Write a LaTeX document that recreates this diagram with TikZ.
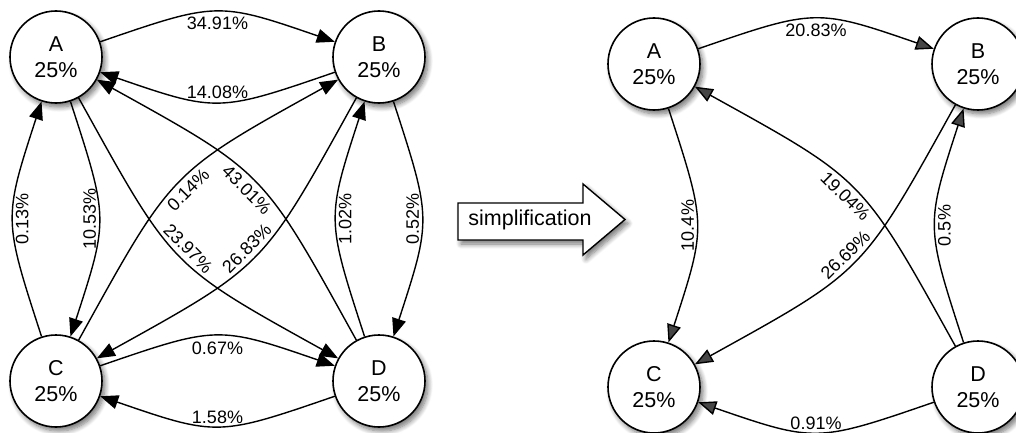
\documentclass[tikz,border=0pt]{standalone}
\usepackage{fontspec}
\setmainfont{Liberation Sans}
\usetikzlibrary{arrows.meta,shadows.blur}
\begin{document}
\begin{tikzpicture}[x=1pt,y=1pt,
  shd/.style={blur shadow={shadow xshift=3pt, shadow yshift=-4pt, shadow blur steps=8, shadow blur radius=5pt, shadow opacity=55}},
  st/.style={circle, draw, line width=1.6pt, fill=white, minimum size=92pt, inner sep=0pt, align=center, font=\fontsize{21.5}{26}\selectfont, shd},
  ed/.style={line width=1.4pt, -{Triangle[length=18pt,width=14pt]}, looseness=1.35},
  lbl/.style={font=\fontsize{18}{18}\selectfont, inner sep=1pt},
]
\useasboundingbox (0,0) rectangle (1016,432);
% left graph
\node[st] (A) at (56,375) {A\\25\%};
\node[st] (B) at (379,375) {B\\25\%};
\node[st] (C) at (56,51) {C\\25\%};
\node[st] (D) at (379,51) {D\\25\%};
\draw[ed] (A) to[out=19,in=161] node[lbl,anchor=north,outer sep=4pt] {34.91\%} (B);
\draw[ed] (B) to[out=199,in=341] node[lbl,anchor=south,outer sep=3pt] {14.08\%} (A);
\draw[ed] (C) to[out=19,in=161] node[lbl,anchor=north,outer sep=5pt] {0.67\%} (D);
\draw[ed] (D) to[out=199,in=341] node[lbl,anchor=south,outer sep=2pt] {1.58\%} (C);
\draw[ed] (A) to[out=-72,in=72] node[lbl,anchor=south,rotate=90,outer sep=2pt] {10.53\%} (C);
\draw[ed] (C) to[out=108,in=252] node[lbl,anchor=north,rotate=90,outer sep=2pt] {0.13\%} (A);
\draw[ed] (B) to[out=-72,in=72] node[lbl,anchor=south,rotate=90,outer sep=2pt] {0.52\%} (D);
\draw[ed] (D) to[out=108,in=252] node[lbl,anchor=north,rotate=90,outer sep=2pt] {1.02\%} (B);
\draw[ed] (A) to[out=-61,in=151] node[lbl,sloped,anchor=south,outer sep=4pt] {23.97\%} (D);
\draw[ed] (D) to[out=119,in=-29] node[lbl,sloped,anchor=north,outer sep=4pt] {43.01\%} (A);
\draw[ed] (C) to[out=61,in=209] node[lbl,sloped,anchor=north,outer sep=4pt] {0.14\%} (B);
\draw[ed] (B) to[out=241,in=29] node[lbl,sloped,anchor=south,outer sep=4pt] {26.83\%} (C);
% simplification arrow
\draw[line width=1.4pt, fill=white, shd] (458,229) -- (583,229) -- (583,248) -- (625,212.5) -- (583,177) -- (583,192) -- (458,192) -- cycle;
\node[font=\fontsize{21.5}{21.5}\selectfont, anchor=base, inner sep=0pt] (simp) at (530,207) {simplification};
% right graph
\node[st] (A2) at (654,368) {A\\25\%};
\node[st] (B2) at (978,368) {B\\25\%};
\node[st] (C2) at (654,45) {C\\25\%};
\node[st] (D2) at (978,45) {D\\25\%};
\draw[ed] (A2) to[out=19,in=161] node[lbl,anchor=north,outer sep=4pt] {20.83\%} (B2);
\draw[ed] (D2) to[out=199,in=341] node[lbl,anchor=south,outer sep=2pt] {0.91\%} (C2);
\draw[ed] (A2) to[out=-72,in=72] node[lbl,anchor=south,rotate=90,outer sep=2pt] {10.4\%} (C2);
\draw[ed] (D2) to[out=108,in=252] node[lbl,anchor=north,rotate=90,outer sep=2pt] {0.5\%} (B2);
\draw[ed] (D2) to[out=119,in=-29] node[lbl,sloped,anchor=north,outer sep=4pt] {19.04\%} (A2);
\draw[ed] (B2) to[out=241,in=29] node[lbl,sloped,anchor=south,outer sep=4pt] {26.69\%} (C2);
\end{tikzpicture}
\end{document}
